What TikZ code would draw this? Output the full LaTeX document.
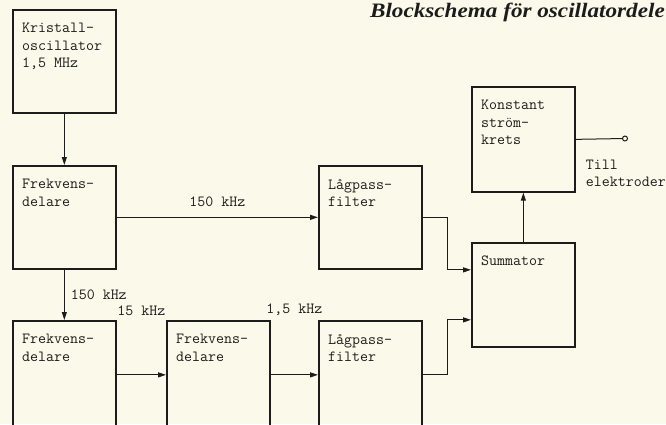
\documentclass[tikz,border=0pt]{standalone}
\usepackage{fontspec}
\setmainfont{Liberation Serif}
\usepackage{xcolor}
\usepackage{tikz}
\usetikzlibrary{positioning, arrows.meta, calc}
\definecolor{papir}{RGB}{251, 250, 234}
\definecolor{blekk}{RGB}{28, 28, 28}
\newcommand{\blokk}[4]{
\node[blokk, minimum height=#3] (#1) at (#2) {};
\node[blokktekst] (#1-t) at ([xshift=10pt,yshift=-14pt]#1.north west) {#4};
}

\begin{document}
\begin{tikzpicture}[x=1pt, y=1pt,
    blokk/.style={draw=blekk, line width=1.7pt, anchor=north west, minimum width=103pt, inner sep=0pt},
    blokktekst/.style={anchor=north west, align=left, inner sep=0pt, text=blekk, font=\fontsize{15.5}{17.5}\selectfont\ttfamily},
    frekv/.style={inner sep=0pt, text=blekk, font=\fontsize{15.5}{17.5}\selectfont\ttfamily},
    pil/.style={draw=blekk, line width=1pt, -{Triangle[length=8pt, width=5pt]}},
    ledning/.style={draw=blekk, line width=1pt}]
    \useasboundingbox[fill=papir] (0,0) rectangle (666,-424);
    \clip (0,0) rectangle (666,-424);
    % blokker
    \blokk{krist}{12,-9}{103pt}{Kristall-\\oscillator\\1,5 MHz}
    \blokk{fdA}{12,-165}{103pt}{Frekvens-\\delare}
    \blokk{lpA}{318,-165}{103pt}{Lågpass-\\filter}
    \blokk{konst}{471,-86}{105pt}{Konstant\\ström-\\krets}
    \blokk{summ}{471,-242}{104pt}{Summator}
    \blokk{fdB}{12,-320}{108pt}{Frekvens-\\delare}
    \blokk{fdC}{166,-320}{108pt}{Frekvens-\\delare}
    \blokk{lpB}{318,-320}{108pt}{Lågpass-\\filter}
    % tittel
    \node[anchor=base east, inner sep=0pt, xscale=1.13, text=blekk, font=\fontsize{20.5}{24}\selectfont\bfseries\itshape] (tittel) at (665,-17.5) {Blockschema för oscillatordele};
    % forbindelser
    \draw[pil] (krist.south) -- (fdA.north);
    \draw[pil] (fdA.east) -- node[frekv, above=10pt] (fA) {150 kHz} (lpA.west);
    \draw[pil] (fdA.south) -- node[frekv, right=6pt] (fB) {150 kHz} (fdB.north);
    \draw[pil] (fdB.east) -- (fdC.west);
    \draw[pil] (fdC.east) -- (lpB.west);
    \node[frekv, above=4pt] (fC) at ($(fdB.north east)!0.5!(fdC.north west)$) {15 kHz};
    \node[frekv, above=4pt] (fD) at ($(fdC.north east)!0.5!(lpB.north west)$) {1,5 kHz};
    \draw[pil] (lpA.east) -- ++(25,0) |- ([yshift=25pt]summ.west);
    \draw[pil] (lpB.east) -- ++(25,0) |- ([yshift=-25pt]summ.west);
    \draw[pil] (summ.north) -- (konst.south);
    \node[circle, draw=blekk, line width=1pt, fill=papir, inner sep=0pt, minimum size=5pt] (ut) at (625,-138.5) {};
    \draw[ledning] (konst.east) -- (ut);
    \node[blokktekst] (til) at ([xshift=10pt,yshift=-20pt]konst.east) {Till\\elektroder};
\end{tikzpicture}
\end{document}
